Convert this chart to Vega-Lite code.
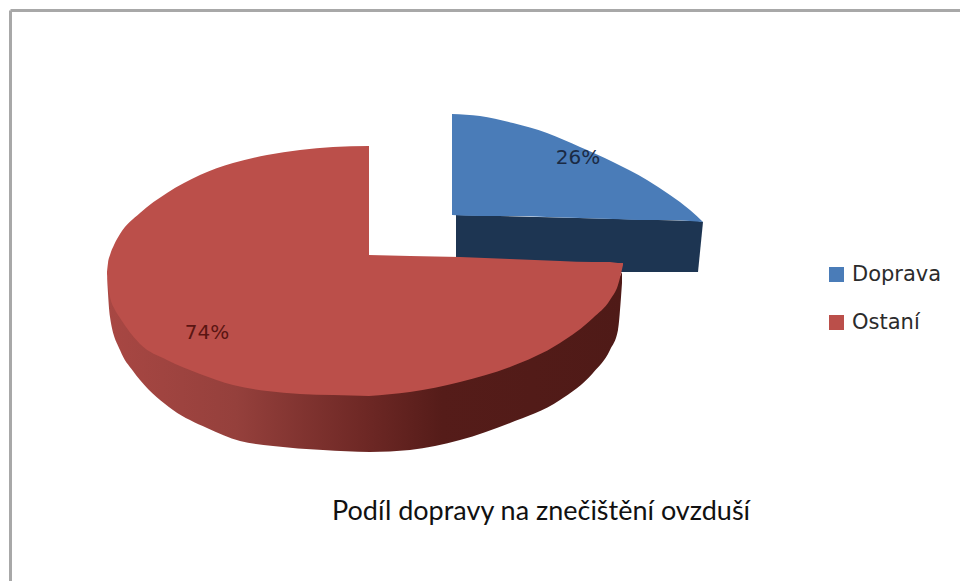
{
"$schema":"https://vega.github.io/schema/vega-lite/v6.json",
"width":950,"height":571,"autosize":{"type":"none"},"padding":{"left":10,"top":10,"right":0,"bottom":0},
"background":"white",
"view":{"stroke":null},
"title":{"text":"Podíl dopravy na znečištění ovzduší","orient":"top","anchor":"start","frame":"group","offset":0,"dx":322,"dy":537,"baseline":"alphabetic","font":"Lato","fontSize":27,"fontWeight":"normal","color":"#111111"},
"datasets":{
"ostaniWall":[{"x":107.5,"y":275,"y2":285},{"x":110,"y":290,"y2":317},{"x":120,"y":313,"y2":350},{"x":133,"y":332,"y2":371},{"x":140,"y":339,"y2":380},{"x":173,"y":358,"y2":410},{"x":207,"y":372,"y2":428},{"x":240,"y":381,"y2":441},{"x":273,"y":387,"y2":446},{"x":323,"y":390,"y2":450},{"x":370,"y":391,"y2":452},{"x":410,"y":387,"y2":450},{"x":460,"y":377,"y2":440},{"x":510,"y":362,"y2":423},{"x":560,"y":338,"y2":400},{"x":593,"y":313,"y2":373},{"x":610,"y":295,"y2":350},{"x":618,"y":280,"y2":330},{"x":622,"y":272,"y2":283}],
"dopravaWall":[{"x":456,"y":215,"y2":272},{"x":698,"y":221,"y2":272},{"x":703,"y":222,"y2":222}],
"doprava":[
{"kategorie":"Doprava","x":452,"y":114,"y2":215},{"kategorie":"Doprava","x":480,"y":116,"y2":216},{"kategorie":"Doprava","x":513,"y":123,"y2":216},{"kategorie":"Doprava","x":547,"y":133,"y2":217},{"kategorie":"Doprava","x":580,"y":147,"y2":218},{"kategorie":"Doprava","x":613,"y":162,"y2":219},{"kategorie":"Doprava","x":647,"y":180,"y2":220},{"kategorie":"Doprava","x":670,"y":195,"y2":220},{"kategorie":"Doprava","x":690,"y":210,"y2":221},{"kategorie":"Doprava","x":703,"y":222,"y2":222}],
"ostani":[
{"kategorie":"Ostaní","x":107,"y":272,"y2":274},{"kategorie":"Ostaní","x":108,"y":263,"y2":285},{"kategorie":"Ostaní","x":110,"y":255,"y2":297},{"kategorie":"Ostaní","x":114,"y":245,"y2":308},{"kategorie":"Ostaní","x":120,"y":234,"y2":318},{"kategorie":"Ostaní","x":140,"y":213,"y2":344},{"kategorie":"Ostaní","x":167,"y":193,"y2":360},{"kategorie":"Ostaní","x":200,"y":175,"y2":374},{"kategorie":"Ostaní","x":233,"y":163,"y2":385},{"kategorie":"Ostaní","x":267,"y":155,"y2":391},{"kategorie":"Ostaní","x":300,"y":150,"y2":394},{"kategorie":"Ostaní","x":333,"y":147,"y2":395},{"kategorie":"Ostaní","x":369,"y":146,"y2":396}],
"ostaniRight":[
{"kategorie":"Ostaní","x":369,"y":255,"y2":396},{"kategorie":"Ostaní","x":410,"y":256,"y2":392},{"kategorie":"Ostaní","x":460,"y":257,"y2":382},{"kategorie":"Ostaní","x":510,"y":259,"y2":367},{"kategorie":"Ostaní","x":560,"y":261,"y2":343},{"kategorie":"Ostaní","x":593,"y":262,"y2":318},{"kategorie":"Ostaní","x":610,"y":262,"y2":300},{"kategorie":"Ostaní","x":618,"y":263,"y2":285},{"kategorie":"Ostaní","x":623,"y":263,"y2":265}],
"labels":[{"kategorie":"Doprava","podil":"26%","x":578,"y":158},{"kategorie":"Ostaní","podil":"74%","x":207,"y":333}]
},
"encoding":{
"x":{"field":"x","type":"quantitative","scale":{"domain":[10,960],"nice":false,"zero":false},"axis":{"orient":"top","title":null,"labels":false,"ticks":false,"grid":false,"domain":true,"domainColor":"#a8a8a8","domainWidth":3}},
"y":{"field":"y","type":"quantitative","scale":{"domain":[581,10],"nice":false,"zero":false},"axis":{"orient":"left","title":null,"labels":false,"ticks":false,"grid":false,"domain":true,"domainColor":"#a8a8a8","domainWidth":3}}
},
"layer":[
{"data":{"name":"dopravaWall"},"mark":{"type":"area","color":"#1d3552"},"encoding":{"y2":{"field":"y2"}}},
{"data":{"name":"ostaniWall"},"mark":{"type":"area","interpolate":"monotone","color":{"gradient":"linear","x1":0,"y1":0,"x2":1,"y2":0,"stops":[{"offset":0,"color":"#a84743"},{"offset":0.25,"color":"#95403c"},{"offset":0.5,"color":"#6e2825"},{"offset":0.65,"color":"#551c19"},{"offset":1,"color":"#4f1a17"}]}},"encoding":{"y2":{"field":"y2"}}},
{"data":{"name":"doprava"},"mark":{"type":"area","interpolate":"monotone"},"encoding":{"y2":{"field":"y2"},"color":{"field":"kategorie","type":"nominal","scale":{"domain":["Doprava","Ostaní"],"range":["#4a7cb8","#bb4f4a"]},"legend":{"orient":"none","legendX":816,"legendY":254,"title":null,"symbolType":"square","symbolSize":225,"symbolStrokeWidth":0,"labelFont":"DejaVu Sans","labelFontSize":21,"labelColor":"#2b2b2b","labelOffset":5,"rowPadding":26,"labelLimit":140}}}},
{"data":{"name":"ostani"},"mark":{"type":"area","interpolate":"monotone"},"encoding":{"y2":{"field":"y2"},"color":{"field":"kategorie","type":"nominal"}}},
{"data":{"name":"ostaniRight"},"mark":{"type":"area","interpolate":"monotone"},"encoding":{"y2":{"field":"y2"},"color":{"field":"kategorie","type":"nominal"}}},
{"data":{"name":"labels"},"mark":{"type":"text","font":"DejaVu Sans","fontSize":20,"align":"center","baseline":"middle"},"encoding":{"text":{"field":"podil"},"color":{"condition":{"test":"datum.kategorie === 'Doprava'","value":"#1a2a44"},"value":"#5a1512"}}}
]
}
